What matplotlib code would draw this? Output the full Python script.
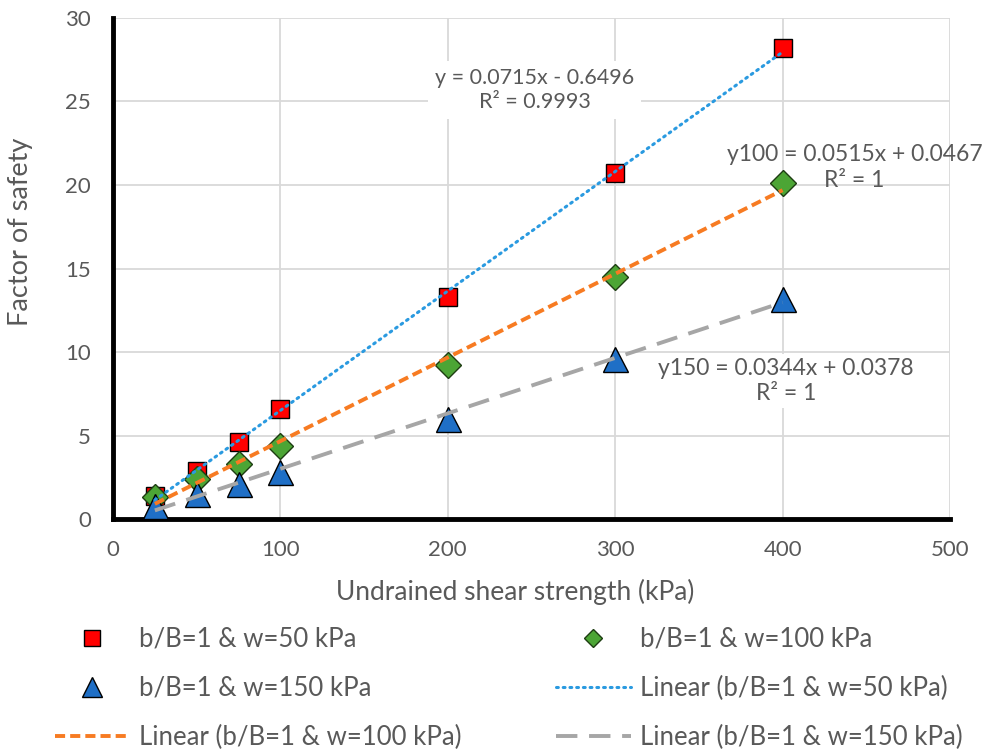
import numpy as np
import matplotlib
matplotlib.use("Agg")
import matplotlib.pyplot as plt

plt.rcParams['font.family'] = ['Lato', 'DejaVu Sans']

# data
su = [25, 50, 75, 100, 200, 300, 400]
fs_w50 = [1.4, 2.9, 4.6, 6.6, 13.3, 20.7, 28.2]
fs_w100 = [1.3, 2.4, 3.3, 4.4, 9.2, 14.5, 20.1]
fs_w150 = [0.8, 1.5, 2.1, 2.8, 6.0, 9.6, 13.2]

labels = ['b/B=1 & w=50 kPa', 'b/B=1 & w=100 kPa', 'b/B=1 & w=150 kPa']
eq_texts = ['y = 0.0715x - 0.6496\nR² = 0.9993',
            'y100 = 0.0515x + 0.0467\nR² = 1',
            'y150 = 0.0344x + 0.0378\nR² = 1']

txt = '#595959'
grid = '#d9d9d9'

fig = plt.figure(figsize=(9.87, 7.49), dpi=100)
ax = fig.add_axes([0.1145, 0.307, 0.848, 0.669])

x = np.array(su, dtype=float)
sq, = ax.plot(x, fs_w50, 's', ms=13.5, mfc='#ff0000', mec='black', mew=1.0, zorder=3)
dm, = ax.plot(x, fs_w100, 'D', ms=13, mfc='#4ca535', mec='#1e3d12', mew=1.0, zorder=3)
tr, = ax.plot(x, fs_w150, '^', ms=18, mfc='#1f6fc6', mec='black', mew=1.0, zorder=3)

# linear trendlines
xx = np.array([25, 400], dtype=float)
p1 = np.polyfit(x, fs_w50, 1)
p2 = np.polyfit(x, fs_w100, 1)
p3 = np.polyfit(x, fs_w150, 1)
l1, = ax.plot(xx, np.polyval(p1, xx), color='#2a9ae0', lw=2.2, ls=(0, (0.6, 1.6)),
              dash_capstyle='round', zorder=4)
l2, = ax.plot(xx, np.polyval(p2, xx), color='#f77b22', lw=2.8, ls=(0, (2.6, 1.3)), zorder=4)
l3, = ax.plot(xx, np.polyval(p3, xx), color='#a6a6a6', lw=2.8, ls=(0, (5.5, 3)), zorder=4)

ax.set_xlim(0, 500)
ax.set_ylim(0, 30)
ax.set_xticks(range(0, 501, 100))
ax.set_yticks(range(0, 31, 5))
ax.grid(True, color=grid, lw=1.3)
ax.set_axisbelow(True)
for s in ['top', 'right']:
    ax.spines[s].set_visible(False)
ax.spines['left'].set_linewidth(3.5)
ax.spines['bottom'].set_linewidth(3.5)
ax.tick_params(length=0, labelsize=16, colors=txt)
ax.tick_params(axis='x', pad=15)
ax.tick_params(axis='y', pad=16)
ax.set_xlabel('Undrained shear strength (kPa)', fontsize=19, color=txt)
ax.set_ylabel('Factor of safety', fontsize=19.5, color=txt)
ax.xaxis.set_label_coords(0.48, -0.119)
ax.yaxis.set_label_coords(-0.095, 0.573)

ax.text(252, 25.7, eq_texts[0], ha='center', va='center', fontsize=15.5, color=txt,
        linespacing=1.25, bbox=dict(fc='white', ec='none', pad=5), zorder=5)
ax.text(443, 21.05, eq_texts[1], ha='center', va='center', fontsize=16.5, color=txt,
        linespacing=1.25, zorder=5)
ax.text(402, 8.26, eq_texts[2], ha='center', va='center', fontsize=16.5, color=txt,
        linespacing=1.25, bbox=dict(fc='white', ec='none', pad=3), zorder=5)

# legend below the axes: two columns, placed separately
leg_kw = dict(loc='upper left', frameon=False, fontsize=18.5, labelcolor=txt,
              handlelength=2.9, handletextpad=0.35, labelspacing=0.93,
              borderpad=0, borderaxespad=0)
col1 = fig.legend([sq, tr, l2], [labels[0], labels[2], 'Linear (' + labels[1] + ')'],
                  bbox_to_anchor=(55 / 987, 0.163), **leg_kw)
col2 = fig.legend([dm, l1, l3], [labels[1], 'Linear (' + labels[0] + ')', 'Linear (' + labels[2] + ')'],
                  bbox_to_anchor=(556 / 987, 0.163), **leg_kw)
col1.legend_handles[0].set_markersize(11.5)
col1.legend_handles[1].set_markersize(14)
col2.legend_handles[0].set_markersize(9.5)

fig.savefig('out.png', dpi=100)
